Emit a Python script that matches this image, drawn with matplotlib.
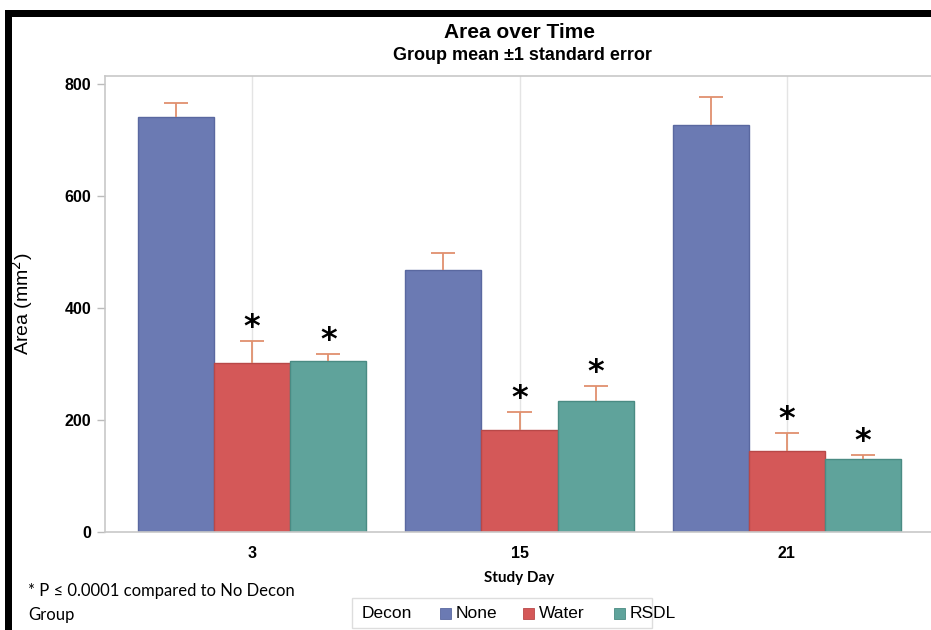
import matplotlib
matplotlib.use("Agg")
import matplotlib.pyplot as plt
from matplotlib.patches import Rectangle
import numpy as np

days = ["3", "15", "21"]
groups = ["None", "Water", "RSDL"]
means = {
    "None": [741, 468, 727],
    "Water": [302, 182, 145],
    "RSDL": [305, 234, 130],
}
upper = {
    "None": [766, 498, 777],
    "Water": [341, 214, 177],
    "RSDL": [318, 261, 137],
}
signif = {
    "None": [False, False, False],
    "Water": [True, True, True],
    "RSDL": [True, True, True],
}
colors = {"None": "#6B7AB3", "Water": "#D45858", "RSDL": "#5FA39B"}
edges = {"None": "#5A68A0", "Water": "#B84848", "RSDL": "#4A8B83"}
err_color = "#E0906E"

plt.rcParams['font.family'] = ['Liberation Sans', 'DejaVu Sans']

fig = plt.figure(figsize=(9.31, 6.30), dpi=100)
W, H = 931, 630
ax = fig.add_axes([105 / W, 1 - 532 / H, (934 - 105) / W, (532 - 76) / H])

x = np.arange(len(days))
bw = 0.285
offsets = [-bw, 0, bw]
cap = 0.045
for g, off in zip(groups, offsets):
    m = np.array(means[g])
    u = np.array(upper[g])
    xs = x + off
    ax.bar(xs, m, width=bw, color=colors[g], edgecolor=edges[g], linewidth=1.0, zorder=2, label=g)
    ax.vlines(xs, m, u, color=err_color, linewidth=1.3, zorder=3)
    ax.hlines(u, xs - cap, xs + cap, color=err_color, linewidth=1.3, zorder=3)
    for xi, ui, s in zip(xs, u, signif[g]):
        if s:
            ax.text(xi, ui - 4, "*", ha='center', va='bottom', fontsize=23, fontweight='bold',
                    color='black', zorder=4, family=['DejaVu Sans'])

ax.set_xlim(-0.55, 2.55)
ax.set_ylim(0, 814)
ax.set_yticks([0, 200, 400, 600, 800])
ax.set_xticks(x)
ax.set_xticklabels(days, fontweight='bold', fontsize=11.5)
for lab in ax.get_yticklabels():
    lab.set_fontweight('bold')
    lab.set_fontsize(11.5)
ax.tick_params(axis='y', length=6, color='#BBBBBB', width=1, pad=4)
ax.tick_params(axis='x', length=0, pad=10)
ax.xaxis.grid(True, color='#E4E4E4', linewidth=1, zorder=0)
ax.set_axisbelow(True)
for sp in ax.spines.values():
    sp.set_color('#C8C8C8')
    sp.set_linewidth(1.2)

ax.set_ylabel("Area (mm$^2$)", fontsize=14)
ax.yaxis.set_label_coords(-(105 - 35) / (934 - 105), 0.5)

fig.text(520 / W, 1 - 33 / H, "Area over Time", ha='center', va='center', fontsize=15,
         fontweight='bold', family=['Liberation Sans Narrow', 'Liberation Sans', 'DejaVu Sans'])
fig.text(522 / W, 1 - 56 / H, "Group mean \u00b11 standard error", ha='center', va='center', fontsize=13,
         fontweight='bold', family=['Liberation Sans Narrow', 'Liberation Sans', 'DejaVu Sans'])
fig.text(519 / W, 1 - 578 / H, "Study Day", ha='center', va='center', fontsize=11, fontweight='bold',
         family=['Lato', 'DejaVu Sans'])
fig.text(28 / W, 1 - 591 / H, "* P \u2264 0.0001 compared to No Decon", ha='left', va='center', fontsize=12,
         family=['Lato', 'DejaVu Sans'])
fig.text(28 / W, 1 - 615 / H, "Group", ha='left', va='center', fontsize=12, family=['Lato', 'DejaVu Sans'])

# legend box
fig.patches.append(Rectangle((352 / W, 1 - 628 / H), (652 - 352) / W, (628 - 598) / H,
                             transform=fig.transFigure, facecolor='white', edgecolor='#DDDDDD', linewidth=1))
fig.text(362 / W, 1 - 613 / H, "Decon", ha='left', va='center', fontsize=12.5)
leg_x = [440, 523, 614]
leg_lab_x = [456, 539, 630]
for g, lx, tx in zip(groups, leg_x, leg_lab_x):
    fig.patches.append(Rectangle((lx / W, 1 - 619 / H), 11 / W, 11 / H, transform=fig.transFigure,
                                 facecolor=colors[g], edgecolor=edges[g], linewidth=0.6))
    fig.text(tx / W, 1 - 613 / H, g, ha='left', va='center', fontsize=12.5)

# black border (left and top)
fig.patches.append(Rectangle((5 / W, 0), 7 / W, 1 - 10 / H, transform=fig.transFigure,
                             facecolor='black', edgecolor='none'))
fig.patches.append(Rectangle((5 / W, 1 - 17 / H), 1 - 5 / W, 7 / H, transform=fig.transFigure,
                             facecolor='black', edgecolor='none'))

fig.savefig("out.png", dpi=100)
